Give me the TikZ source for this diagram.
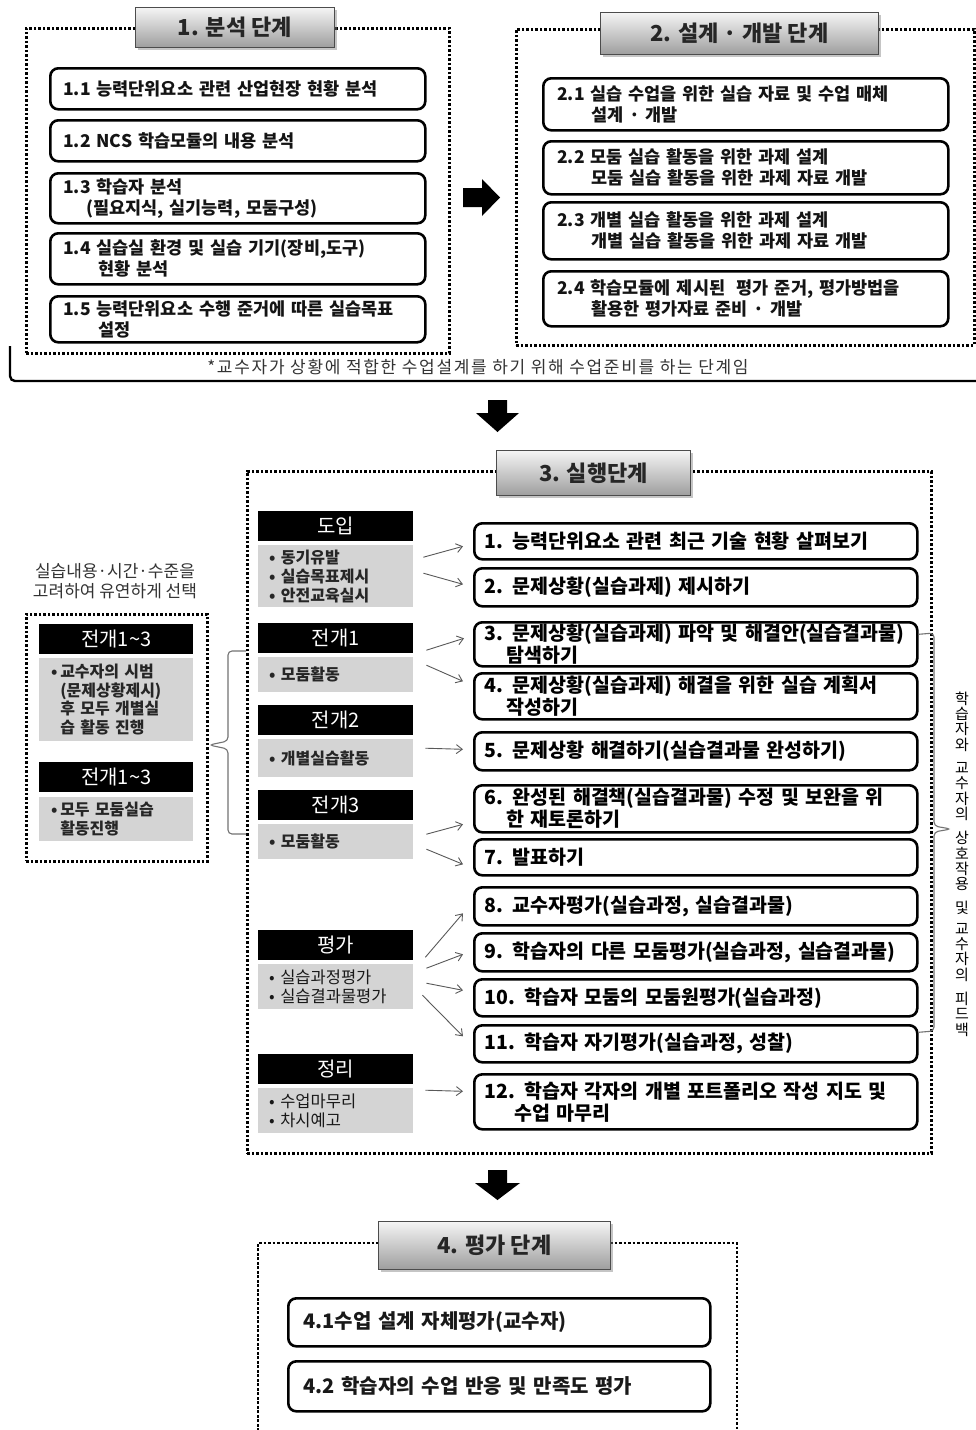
\documentclass[tikz,border=0pt]{standalone}
\usepackage{fontspec}
\setmainfont{Noto Sans CJK KR}
\usetikzlibrary{arrows.meta,shadows}
\begin{document}
\begin{tikzpicture}[x=1pt,y=-1pt,
  dotbox/.style={draw=black, line width=2.6pt, dash pattern=on 2.6pt off 1.9pt, anchor=north west, inner sep=0pt},
  titlebox/.style={draw=black!70, line width=0.8pt, top color=black!4, bottom color=black!38,
    drop shadow={shadow xshift=2.5pt, shadow yshift=-2.5pt, opacity=0.45},
    anchor=north west, inner sep=0pt, font=\fontsize{22}{26}\selectfont\bfseries, text=black!85},
  itemA/.style={draw=black, line width=2.6pt, rounded corners=8pt, fill=white, anchor=north west,
    inner ysep=0pt, inner xsep=13pt, align=left, font=\fontsize{17.5}{21}\selectfont\bfseries, text=black!92},
  itemB/.style={itemA, inner xsep=10pt, text width=423pt, font=\fontsize{19.5}{22}\selectfont\bfseries, text=black},
  itemC/.style={itemA, inner xsep=15pt, text width=392pt, font=\fontsize{20}{22}\selectfont\bfseries, text=black!90},
  shead/.style={fill=black, text=white, anchor=north west, inner sep=0pt, minimum width=155pt,
    minimum height=30pt, font=\fontsize{20}{22}\selectfont},
  sbody/.style={fill=black!17, anchor=north west, inner xsep=11pt, inner ysep=0pt, text width=133pt,
    align=left, font=\fontsize{16.5}{19}\selectfont, text=black!90},
  sbodyb/.style={sbody, font=\fontsize{16}{19}\selectfont\bfseries, text=black!85},
  lhead/.style={shead, minimum width=154pt},
  lbody/.style={sbody, inner xsep=12pt, text width=130pt, font=\fontsize{16}{18.5}\selectfont\bfseries, text=black!85},
  arr/.style={draw=black!65, line width=0.9pt, -{Straight Barb[length=6pt,width=9pt,line width=0.9pt]}},
  brc/.style={draw=black!55, line width=1.1pt},
  note/.style={text=black!80, align=center}
]
\useasboundingbox (0,0) rectangle (976,1430);
\fill[white] (0,0) rectangle (976,1430);

% ---------- Section 1 ----------
\node[dotbox, minimum width=423pt, minimum height=325pt] (s1) at (25,27) {};
\node[titlebox, minimum width=199pt, minimum height=40pt] (t1) at (135,7) {1. 분석 단계};
\node[itemA, text width=349pt, minimum height=41pt] (i11) at (49,67) {1.1 능력단위요소 관련 산업현장 현황 분석};
\node[itemA, text width=349pt, minimum height=41pt] (i12) at (49,119) {1.2 NCS 학습모듈의 내용 분석};
\node[itemA, text width=349pt, minimum height=50pt] (i13) at (49,172) {1.3 학습자 분석\\\hspace*{23pt}(필요지식, 실기능력, 모둠구성)};
\node[itemA, text width=349pt, minimum height=51pt] (i14) at (49,232) {1.4 실습실 환경 및 실습 기기(장비,도구)\\\hspace*{35pt}현황 분석};
\node[itemA, text width=349pt, minimum height=46pt] (i15) at (49,295) {1.5 능력단위요소 수행 준거에 따른 실습목표\\\hspace*{35pt}설정};

% ---------- Section 2 ----------
\node[dotbox, minimum width=458pt, minimum height=316pt] (s2) at (515,28) {};
\node[titlebox, minimum width=278pt, minimum height=42pt] (t2) at (600,12) {2. 설계 · 개발 단계};
\node[itemA, inner xsep=14pt, text width=377pt, minimum height=52pt] (i21) at (542,77) {2.1 실습 수업을 위한 실습 자료 및 수업 매체\\\hspace*{34pt}설계 · 개발};
\node[itemA, inner xsep=14pt, text width=377pt, minimum height=53pt] (i22) at (542,140) {2.2 모둠 실습 활동을 위한 과제 설계\\\hspace*{34pt}모둠 실습 활동을 위한 과제 자료 개발};
\node[itemA, inner xsep=14pt, text width=377pt, minimum height=57pt] (i23) at (542,201) {2.3 개별 실습 활동을 위한 과제 설계\\\hspace*{34pt}개별 실습 활동을 위한 과제 자료 개발};
\node[itemA, inner xsep=14pt, text width=377pt, minimum height=55pt] (i24) at (542,270) {2.4 학습모듈에 제시된 \ 평가 준거, 평가방법을\\\hspace*{34pt}활용한 평가자료 준비 · 개발};

% right block arrow
\fill[black] (463,188) -- (482,188) -- (482,179) -- (500,197.5) -- (482,216) -- (482,207) -- (463,207) -- cycle;

% bracket + footnote
\draw[line width=2.4pt, rounded corners=5pt] (10,346) -- (10,381) -- (978,381);
\node[note, font=\fontsize{17}{20}\selectfont\addfontfeature{LetterSpace=10}] (fn) at (478,367) {*교수자가 상황에 적합한 수업설계를 하기 위해 수업준비를 하는 단계임};

% down arrow 1
\fill[black] (488,400) -- (507,400) -- (507,413) -- (519,413) -- (497.5,432) -- (476,413) -- (488,413) -- cycle;

% ---------- Section 3 ----------
\node[dotbox, minimum width=684pt, minimum height=682pt] (s3) at (246,470) {};
\node[titlebox, minimum width=194pt, minimum height=45pt] (t3) at (496,450) {3. 실행단계};

\node[shead] (hdoip) at (258,511) {도입};
\node[sbodyb, minimum height=62pt] (bdoip) at (258,545) {• 동기유발\\• 실습목표제시\\• 안전교육실시};
\node[shead] (hj1) at (258,623) {전개1};
\node[sbodyb, minimum height=35pt] (bj1) at (258,657) {• 모둠활동};
\node[shead] (hj2) at (258,705) {전개2};
\node[sbodyb, minimum height=38pt] (bj2) at (258,739) {• 개별실습활동};
\node[shead] (hj3) at (258,790) {전개3};
\node[sbodyb, minimum height=35pt] (bj3) at (258,824) {• 모둠활동};
\node[shead] (hev) at (258,930) {평가};
\node[sbody, minimum height=45pt] (bev) at (258,964) {• 실습과정평가\\• 실습결과물평가};
\node[shead] (hend) at (258,1054) {정리};
\node[sbody, minimum height=45pt] (bend) at (258,1088) {• 수업마무리\\• 차시예고};

\node[itemB, minimum height=36pt] (r1) at (473,522) {1. 능력단위요소 관련 최근 기술 현황 살펴보기};
\node[itemB, minimum height=38pt] (r2) at (473,567) {2. 문제상황(실습과제) 제시하기};
\node[itemB, minimum height=44pt] (r3) at (473,621) {3. 문제상황(실습과제) 파악 및 해결안(실습결과물)\\\hspace*{22pt}탐색하기};
\node[itemB, minimum height=46pt] (r4) at (473,672) {4. 문제상황(실습과제) 해결을 위한 실습 계획서\\\hspace*{22pt}작성하기};
\node[itemB, minimum height=38pt] (r5) at (473,731) {5. 문제상황 해결하기(실습결과물 완성하기)};
\node[itemB, minimum height=47pt] (r6) at (473,784) {6. 완성된 해결책(실습결과물) 수정 및 보완을 위\\\hspace*{22pt}한 재토론하기};
\node[itemB, minimum height=36pt] (r7) at (473,838) {7. 발표하기};
\node[itemB, minimum height=38pt] (r8) at (473,886) {8. 교수자평가(실습과정, 실습결과물)};
\node[itemB, minimum height=38pt] (r9) at (473,932) {9. 학습자의 다른 모둠평가(실습과정, 실습결과물)};
\node[itemB, minimum height=37pt] (r10) at (473,978) {10. 학습자 모둠의 모둠원평가(실습과정)};
\node[itemB, minimum height=37pt] (r11) at (473,1024) {11. 학습자 자기평가(실습과정, 성찰)};
\node[itemB, minimum height=55pt] (r12) at (473,1073) {12. 학습자 각자의 개별 포트폴리오 작성 지도 및\\\hspace*{30pt}수업 마무리};

% arrows stage -> items
\draw[arr] ([xshift=10pt,yshift=19pt]bdoip.east) -- ([xshift=-10pt,yshift=-5pt]r1.west);
\draw[arr] ([xshift=10pt,yshift=3pt]bdoip.east) -- ([xshift=-10pt,yshift=3pt]r2.west);
\draw[arr] ([xshift=13pt,yshift=24.5pt]bj1.east) -- ([xshift=-9pt,yshift=6pt]r3.west);
\draw[arr] ([xshift=13pt,yshift=9.5pt]bj1.east) -- ([xshift=-10pt,yshift=15pt]r4.west);
\draw[arr] ([xshift=12pt,yshift=10pt]bj2.east) -- ([xshift=-10pt,yshift=2pt]r5.west);
\draw[arr] ([xshift=13pt,yshift=7.5pt]bj3.east) -- ([xshift=-10pt,yshift=-15.5pt]r6.west);
\draw[arr] ([xshift=13pt,yshift=-7.5pt]bj3.east) -- ([xshift=-10pt,yshift=-7pt]r7.west);
\draw[arr] ([xshift=12pt,yshift=29.5pt]bev.east) -- ([xshift=-10pt,yshift=-7pt]r8.west);
\draw[arr] ([xshift=13pt,yshift=18.5pt]bev.east) -- ([xshift=-10pt,yshift=-2pt]r9.west);
\draw[arr] ([xshift=13pt,yshift=3.5pt]bev.east) -- ([xshift=-10pt,yshift=7.5pt]r10.west);
\draw[arr] ([xshift=9pt,yshift=-8.5pt]bev.east) -- ([xshift=-10pt,yshift=7.5pt]r11.west);
\draw[arr] ([xshift=12pt,yshift=20.5pt]bend.east) -- ([xshift=-10pt,yshift=10.5pt]r12.west);

% right brace + vertical text
\draw[brc, rounded corners=4pt] ([yshift=10pt]r3.east) -- (934,633) -- (934,826) -- (951,829) -- (934,832) -- (934,1031) -- ([yshift=11.5pt]r11.east);
\node[note, font=\fontsize{15}{15.3}\selectfont, text=black] (vt) at (962,864)
  {학\\습\\자\\와\\[8pt]교\\수\\자\\의\\[9pt]상\\호\\작\\용\\[9pt]및\\[5pt]교\\수\\자\\의\\[9pt]피\\드\\백};

% ---------- left optional box ----------
\node[note, font=\fontsize{17}{20}\selectfont] (lnote) at (115,581) {실습내용·시간·수준을\\고려하여 유연하게 선택};
\node[dotbox, minimum width=181pt, minimum height=247pt] (lbox) at (25,613) {};
\node[lhead] (lh1) at (39,624) {전개1\textasciitilde3};
\node[lbody, minimum height=83pt] (lb1) at (39,658) {•\,교수자의 시범\\\phantom{•\,}(문제상황제시)\\\phantom{•\,}후 모두 개별실\\\phantom{•\,}습 활동 진행};
\node[lhead] (lh2) at (39,762) {전개1\textasciitilde3};
\node[lbody, minimum height=44pt] (lb2) at (39,797) {•\,모두 모둠실습\\\phantom{•\,}활동진행};

% left brace
\draw[brc, rounded corners=4pt] (s3.west |- 0,651) -- (228,651) -- (228,741) -- (209,745) -- (228,749) -- (228,834) -- (s3.west |- 0,834);

% down arrow 2
\fill[black] (488,1170) -- (507,1170) -- (507,1183) -- (520,1183) -- (497.5,1200) -- (475,1183) -- (488,1183) -- cycle;

% ---------- Section 4 ----------
\draw[draw=black, line width=2.6pt, dash pattern=on 2.6pt off 1.9pt] (258,1440) -- (258,1243) -- (737,1243) -- (737,1440);
\node[titlebox, minimum width=232pt, minimum height=48pt] (t4) at (378,1221) {4. 평가 단계};
\node[itemC, minimum height=48pt] (i41) at (287,1297) {4.1수업 설계 자체평가(교수자)};
\node[itemC, minimum height=50pt] (i42) at (287,1360) {4.2 학습자의 수업 반응 및 만족도 평가};
\end{tikzpicture}
\end{document}
